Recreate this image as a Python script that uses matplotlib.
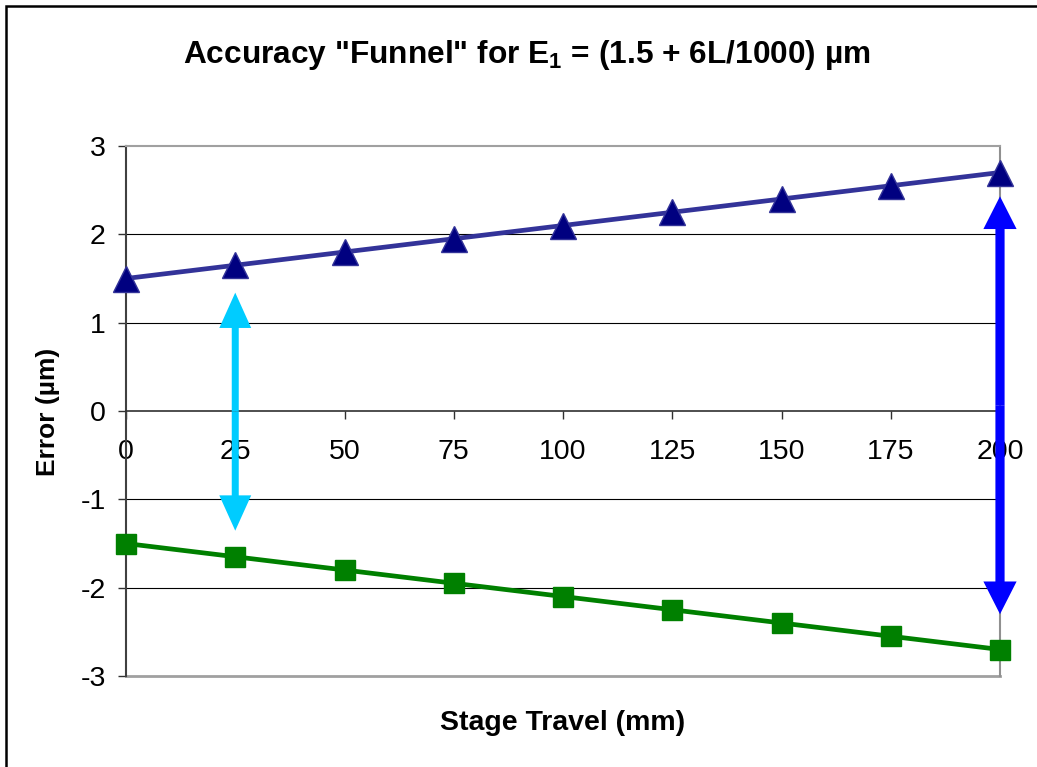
import numpy as np
import matplotlib
matplotlib.use("Agg")
import matplotlib.pyplot as plt
from matplotlib.patches import Rectangle

plt.rcParams['font.family'] = ['Liberation Sans', 'DejaVu Sans']
plt.rcParams['mathtext.fontset'] = 'custom'
plt.rcParams['mathtext.rm'] = 'Liberation Sans:bold'
plt.rcParams['mathtext.bf'] = 'Liberation Sans:bold'

# data
travel = [0, 25, 50, 75, 100, 125, 150, 175, 200]
upper = [1.5, 1.65, 1.8, 1.95, 2.1, 2.25, 2.4, 2.55, 2.7]
lower = [-1.5, -1.65, -1.8, -1.95, -2.1, -2.25, -2.4, -2.55, -2.7]

# double arrows: x, top tip, bottom tip
arrow_x = [25, 200]
arrow_top = [1.34, 2.43]
arrow_bot = [-1.355, -2.30]
arrow_col = ['#00CCFF', '#0000FF']
arrow_w = [1.6, 2.1]
arrow_hw = [7.3, 7.6]
arrow_hl = [0.40, 0.37]

fig = plt.figure(figsize=(10.37, 7.67), dpi=100)
ax = fig.add_axes([126/1037, 1-676/767, 874/1037, 530/767])

ax.set_xlim(0, 200)
ax.set_ylim(-3, 3)

for y in [-2, -1, 1, 2]:
    ax.axhline(y, color='black', lw=0.8, zorder=1)
ax.axhline(-3, color='#a0a0a0', lw=2, zorder=1, clip_on=False)

ax.plot(travel, upper, color='#333399', lw=3.4, marker='^', ms=19,
        mfc='#000080', mec='#333399', mew=1, zorder=4, clip_on=False)
ax.plot(travel, lower, color='#008000', lw=3.4, marker='s', ms=14.5,
        mfc='#008000', mec='#008000', mew=1, zorder=4, clip_on=False)

for i in range(len(arrow_x)):
    mid = (arrow_top[i] + arrow_bot[i]) / 2
    for tip in [arrow_top[i], arrow_bot[i]]:
        ax.arrow(arrow_x[i], mid, 0, tip - mid, width=arrow_w[i],
                 head_width=arrow_hw[i], head_length=arrow_hl[i],
                 length_includes_head=True, color=arrow_col[i], lw=0,
                 zorder=5, clip_on=False)

ax.spines['bottom'].set_position(('data', 0))
ax.spines['bottom'].set_color('#303030')
ax.spines['bottom'].set_linewidth(1.2)
ax.spines['left'].set_color('#404040')
ax.spines['left'].set_linewidth(1.5)
ax.spines['top'].set_color('#a0a0a0')
ax.spines['top'].set_linewidth(1.5)
ax.spines['right'].set_color('#909090')
ax.spines['right'].set_linewidth(1.5)

ax.set_xticks(travel)
ax.set_yticks([-3, -2, -1, 0, 1, 2, 3])
ax.set_yticklabels(['-3', '-2', '-1', '0', '1', '2', '3'])
ax.tick_params(axis='x', direction='out', length=5.5, width=1, color='#303030',
               labelsize=20.5, pad=15)
ax.tick_params(axis='y', direction='out', length=5.5, width=1, color='#303030',
               labelsize=20.5, pad=9)

fig.text(527/1037, 1-55/767, 'Accuracy "Funnel" for E$_1$ = (1.5 + 6L/1000) µm',
         ha='center', va='center', fontsize=22.8, fontweight='bold')
fig.text(563/1037, 1-723/767, 'Stage Travel (mm)', ha='center', va='center',
         fontsize=20.5, fontweight='bold')
fig.text(48/1037, 1-412/767, 'Error (µm)', ha='center', va='center',
         fontsize=19, fontweight='bold', rotation=90)

fig.add_artist(Rectangle((6/1037, -0.1), 2, 1.1 - 6/767, transform=fig.transFigure,
                         fill=False, ec='black', lw=1.8))

fig.savefig('out.png', dpi=100)
